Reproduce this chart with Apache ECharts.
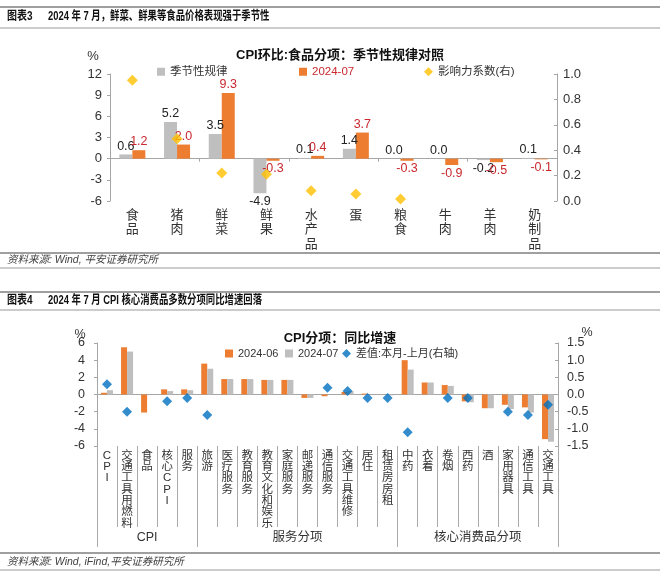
<!DOCTYPE html>
<html><head><meta charset="utf-8">
<script src="https://cdn.jsdelivr.net/npm/echarts@6/dist/echarts.min.js"></script>
<style>html,body{margin:0;padding:0;background:#fff}#c{width:660px;height:579px}</style>
</head><body><div id="c"></div>
<script>
// ---------- Chart 3 data ----------
const cats1 = ['食品','猪肉','鲜菜','鲜果','水产品','蛋','粮食','牛肉','羊肉','奶制品'];
const seasonal1 = [0.6, 5.2, 3.5, -4.9, 0.1, 1.4, 0.0, 0.0, -0.2, 0.1];
const jul1 = [1.2, 2.0, 9.3, -0.3, 0.4, 3.7, -0.3, -0.9, -0.5, -0.1];
const influence1 = [0.95, 0.49, 0.22, 0.21, 0.08, 0.055, 0.016, null, null, null];

// ---------- Chart 4 data ----------
const cats2 = ['CPI','交通工具用燃料','食品','核心CPI','服务','旅游','医疗服务','教育服务','教育文化和娱乐','家庭服务','邮递服务','通信服务','交通工具维修','居住','租赁房房租','中药','衣着','卷烟','西药','酒','家用器具','通信工具','交通工具'];
const jun2 = [0.2, 5.5, -2.1, 0.6, 0.6, 3.6, 1.8, 1.8, 1.7, 1.7, -0.4, -0.2, 0.3, 0.1, 0.0, 4.0, 1.4, 1.1, -0.8, -1.6, -1.2, -1.5, -5.2];
const jul2 = [0.5, 5.0, 0.0, 0.4, 0.5, 3.0, 1.8, 1.8, 1.7, 1.7, -0.4, 0.0, 0.4, 0.0, -0.1, 2.9, 1.4, 1.0, -0.9, -1.6, -1.7, -2.1, -5.5];
const diff2 = [0.3, -0.5, null, -0.2, -0.1, -0.6, null, null, null, null, null, 0.2, 0.1, -0.1, -0.1, -1.1, null, -0.1, -0.1, null, -0.5, -0.6, -0.3];
const groups2 = ['CPI','服务分项','核心消费品分项'];
const groupBounds2 = [0, 5, 15, 23];

const FF = '"Liberation Sans","Noto Sans CJK SC",sans-serif';
const ORANGE = '#ED7D31', GRAY = '#BFBFBF', YELLOW = '#FFC000', BLUE = '#0070C0', RED = '#C8282E';
const AX = '#A6A6A6';
const groupCenters2 = groups2.map((g, i) => (groupBounds2[i] + groupBounds2[i + 1]) / 2);

const vert = v => v.split('').join('\n');
function barData(arr, color) {
  return arr.map(v => ({ value: v, label: { position: v < 0 ? 'bottom' : 'top', color: color } }));
}

const chart = echarts.init(document.getElementById('c'), null, { renderer: 'canvas' });

function txt(text, x, y, font, fill, align, extra) {
  return Object.assign({
    type: 'text', x: x, y: y,
    style: { text: text, font: font, fill: fill || '#222', textAlign: align || 'left', align: align || 'left', textVerticalAlign: 'middle', verticalAlign: 'middle' }
  }, extra || {});
}
function hline(y, color, w) {
  return { type: 'line', shape: { x1: 0, y1: y, x2: 660, y2: y }, style: { stroke: color, lineWidth: w } };
}
const HF = 'bold 12.5px ' + FF;
function lg(name, left, top, fs, icon, extraText) {
  return { data: [{ name: name, icon: icon, textStyle: extraText || {} }], left: left, top: top, padding: 0,
    itemWidth: icon === 'diamond' ? 9 : 8, itemHeight: icon === 'diamond' ? 9 : 8,
    textStyle: { fontSize: fs, color: '#333', fontFamily: FF } };
}

const option = {
  animation: false,
  textStyle: { fontFamily: FF },
  graphic: [
    hline(7, '#7F7F7F', 1.5), hline(28, '#9A9A9A', 1.2),
    txt('图表3', 7, 17, HF, '#111', 'left', { scaleX: 0.8, originX: 0 }),
    txt('2024 年 7 月，鲜菜、鲜果等食品价格表现强于季节性', 48, 17, HF, '#111', 'left', { scaleX: 0.75, originX: 0 }),
    txt('CPI环比:食品分项：季节性规律对照', 340, 55, 'bold 13px ' + FF, '#111', 'center'),
    txt('%', 93, 56, '13px ' + FF, '#333', 'center'),
    hline(253, '#7F7F7F', 1.3), hline(268, '#9A9A9A', 1.2),
    txt('资料来源: Wind, 平安证券研究所', 7, 260, 'italic 10.5px ' + FF, '#404040', 'left'),
    hline(292, '#7F7F7F', 1.5), hline(310, '#9A9A9A', 1.2),
    txt('图表4', 7, 301, HF, '#111', 'left', { scaleX: 0.8, originX: 0 }),
    txt('2024 年 7 月 CPI 核心消费品多数分项同比增速回落', 48, 301, HF, '#111', 'left', { scaleX: 0.75, originX: 0 }),
    txt('CPI分项：同比增速', 340, 338, 'bold 13px ' + FF, '#111', 'center'),
    txt('%', 80, 335, '12.5px ' + FF, '#333', 'center'),
    txt('%', 587, 333, '12.5px ' + FF, '#333', 'center'),
    hline(553, '#7F7F7F', 1.3), hline(570, '#9A9A9A', 1.2),
    txt('资料来源: Wind, iFind,平安证券研究所', 7, 562, 'italic 10.5px ' + FF, '#404040', 'left')
  ],
  legend: [
    lg('季节性规律', 157, 66, 11.5, 'rect'),
    lg('2024-07', 299, 66, 11.5, 'rect', { color: RED }),
    lg('影响力系数(右)', 424, 66, 11.5, 'diamond'),
    lg('2024-06', 225, 348, 11, 'rect'),
    lg('2024-07 ', 285, 348, 11, 'rect'),
    lg('差值:本月-上月(右轴)', 342, 348, 11, 'diamond')
  ],
  grid: [
    { left: 110, right: 103, top: 74, height: 127 },
    { left: 97, right: 102, top: 343, height: 103 }
  ],
  xAxis: [
    { gridIndex: 0, type: 'category', data: cats1, position: 'bottom',
      axisLine: { show: false, onZero: false }, axisTick: { show: false },
      axisLabel: { interval: 0, formatter: vert, fontSize: 13, lineHeight: 14.5, color: '#333', margin: 7 } },
    { gridIndex: 0, type: 'category', data: cats1, position: 'top',
      axisLine: { show: true, onZero: true, lineStyle: { color: AX } },
      axisTick: { show: true, inside: true, length: 3, lineStyle: { color: AX } }, axisLabel: { show: false } },
    { gridIndex: 1, type: 'category', data: cats2, position: 'bottom',
      axisLine: { show: false, onZero: false },
      axisTick: { show: true, interval: 0, length: 81, lineStyle: { color: '#AAAAAA' } },
      axisLabel: { interval: 0, formatter: vert, fontSize: 11.5, lineHeight: 11.3, color: '#333', margin: 4 } },
    { gridIndex: 1, type: 'value', min: 0, max: 23, position: 'bottom',
      axisLine: { show: false, onZero: false }, splitLine: { show: false },
      axisTick: { show: true, customValues: groupBounds2, length: 101, lineStyle: { color: '#AAAAAA' } },
      axisLabel: { customValues: groupCenters2, formatter: v => groups2[groupCenters2.indexOf(v)] || '', margin: 85, fontSize: 12.5, color: '#333' } },
    { gridIndex: 1, type: 'category', data: cats2, position: 'top',
      axisLine: { show: true, onZero: true, lineStyle: { color: AX } },
      axisTick: { show: false }, axisLabel: { show: false } }
  ],
  yAxis: [
    { gridIndex: 0, type: 'value', min: -6, max: 12, interval: 3, position: 'left',
      axisLine: { show: true, onZero: false, lineStyle: { color: AX } }, axisTick: { show: true, length: 3, lineStyle: { color: AX } },
      splitLine: { show: false }, axisLabel: { fontSize: 13, color: '#333', margin: 8 } },
    { gridIndex: 0, type: 'value', min: 0, max: 1, interval: 0.2, position: 'right',
      axisLine: { show: true, onZero: false, lineStyle: { color: AX } }, axisTick: { show: true, inside: true, length: 3, lineStyle: { color: AX } },
      splitLine: { show: false }, axisLabel: { fontSize: 13, color: '#333', margin: 6, formatter: v => v.toFixed(1) } },
    { gridIndex: 1, type: 'value', min: -6, max: 6, interval: 2, position: 'left',
      axisLine: { show: true, onZero: false, lineStyle: { color: AX } }, axisTick: { show: true, length: 3, lineStyle: { color: AX } },
      splitLine: { show: false }, axisLabel: { fontSize: 12.5, color: '#333', margin: 12 } },
    { gridIndex: 1, type: 'value', min: -1.5, max: 1.5, interval: 0.5, position: 'right',
      axisLine: { show: true, onZero: false, lineStyle: { color: AX } }, axisTick: { show: true, inside: true, length: 3, lineStyle: { color: AX } },
      splitLine: { show: false }, axisLabel: { fontSize: 12.5, color: '#333', margin: 9, formatter: v => v.toFixed(1) } }
  ],
  series: [
    { name: '季节性规律', type: 'bar', xAxisIndex: 0, yAxisIndex: 0, data: barData(seasonal1, '#222'),
      barWidth: 13, barGap: '0%', itemStyle: { color: GRAY },
      label: { show: true, fontSize: 12.5, distance: 2, formatter: p => p.value.toFixed(1) } },
    { name: '2024-07', type: 'bar', xAxisIndex: 0, yAxisIndex: 0, data: barData(jul1, RED),
      barWidth: 13, barGap: '0%', itemStyle: { color: ORANGE },
      label: { show: true, fontSize: 12.5, distance: 2, formatter: p => p.value.toFixed(1) } },
    { name: '影响力系数(右)', type: 'scatter', xAxisIndex: 0, yAxisIndex: 1, data: influence1,
      symbol: 'diamond', symbolSize: 11, itemStyle: { color: YELLOW }, z: 5 },
    { name: '2024-06', type: 'bar', xAxisIndex: 2, yAxisIndex: 2, data: jun2,
      barWidth: 6, barGap: '0%', itemStyle: { color: ORANGE } },
    { name: '2024-07 ', type: 'bar', xAxisIndex: 2, yAxisIndex: 2, data: jul2,
      barWidth: 6, barGap: '0%', itemStyle: { color: GRAY } },
    { name: '差值:本月-上月(右轴)', type: 'scatter', xAxisIndex: 2, yAxisIndex: 3, data: diff2,
      symbol: 'diamond', symbolSize: 10, itemStyle: { color: BLUE }, z: 5 }
  ]
};
chart.setOption(option);
</script>
</body></html>
